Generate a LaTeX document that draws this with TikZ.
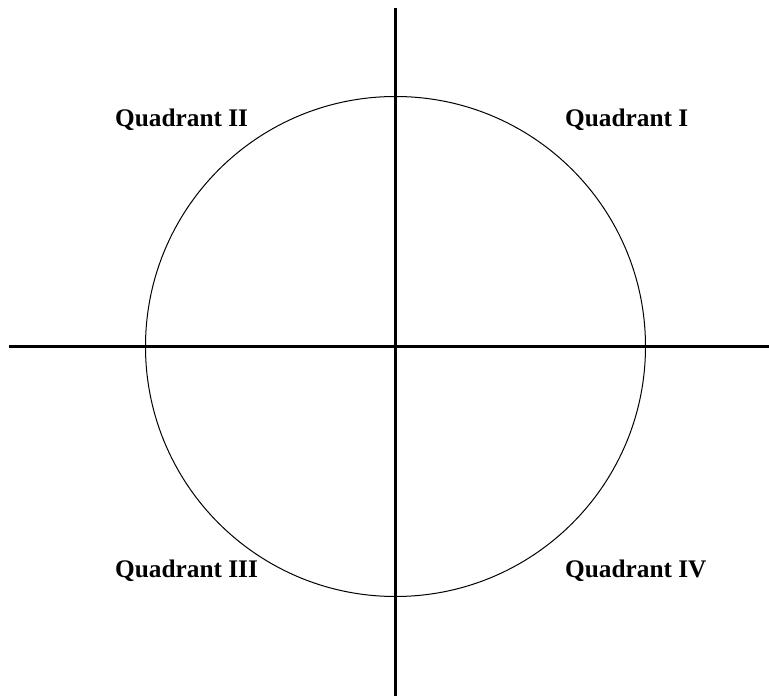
\documentclass[tikz,border=0pt]{standalone}
\usepackage{fontspec}
\setmainfont{Liberation Serif}
\usetikzlibrary{positioning}

\begin{document}
\begin{tikzpicture}[x=1pt,y=1pt,
    axis/.style={line width=2.2pt,black},
    quadlabel/.style={anchor=base west,inner sep=0pt,font=\fontsize{25.3}{29}\selectfont\bfseries}]

\useasboundingbox (-395.5,-349.5) rectangle (373.5,346.5);

% Origen y extremos de los ejes
\coordinate (O) at (0,0);
\coordinate (xleft) at (-386,0);
\coordinate (xright) at (373.5,0);
\coordinate (ytop) at (0,338.5);
\coordinate (ybot) at (0,-349.5);

% Circunferencia
\draw[line width=1pt] (O) circle[radius=250];

% Ejes
\draw[axis] (xleft) -- (xright);
\draw[axis] (ybot) -- (ytop);

% Etiquetas
\node[quadlabel] (q1) at (169.5,219.5) {Quadrant I};
\node[quadlabel] (q2) at (-280.5,219.5) {Quadrant II};
\node[quadlabel] (q3) at (-280.5,-230.5) {Quadrant III};
\node[quadlabel] (q4) at (169.5,-230.5) {Quadrant IV};

\end{tikzpicture}
\end{document}
